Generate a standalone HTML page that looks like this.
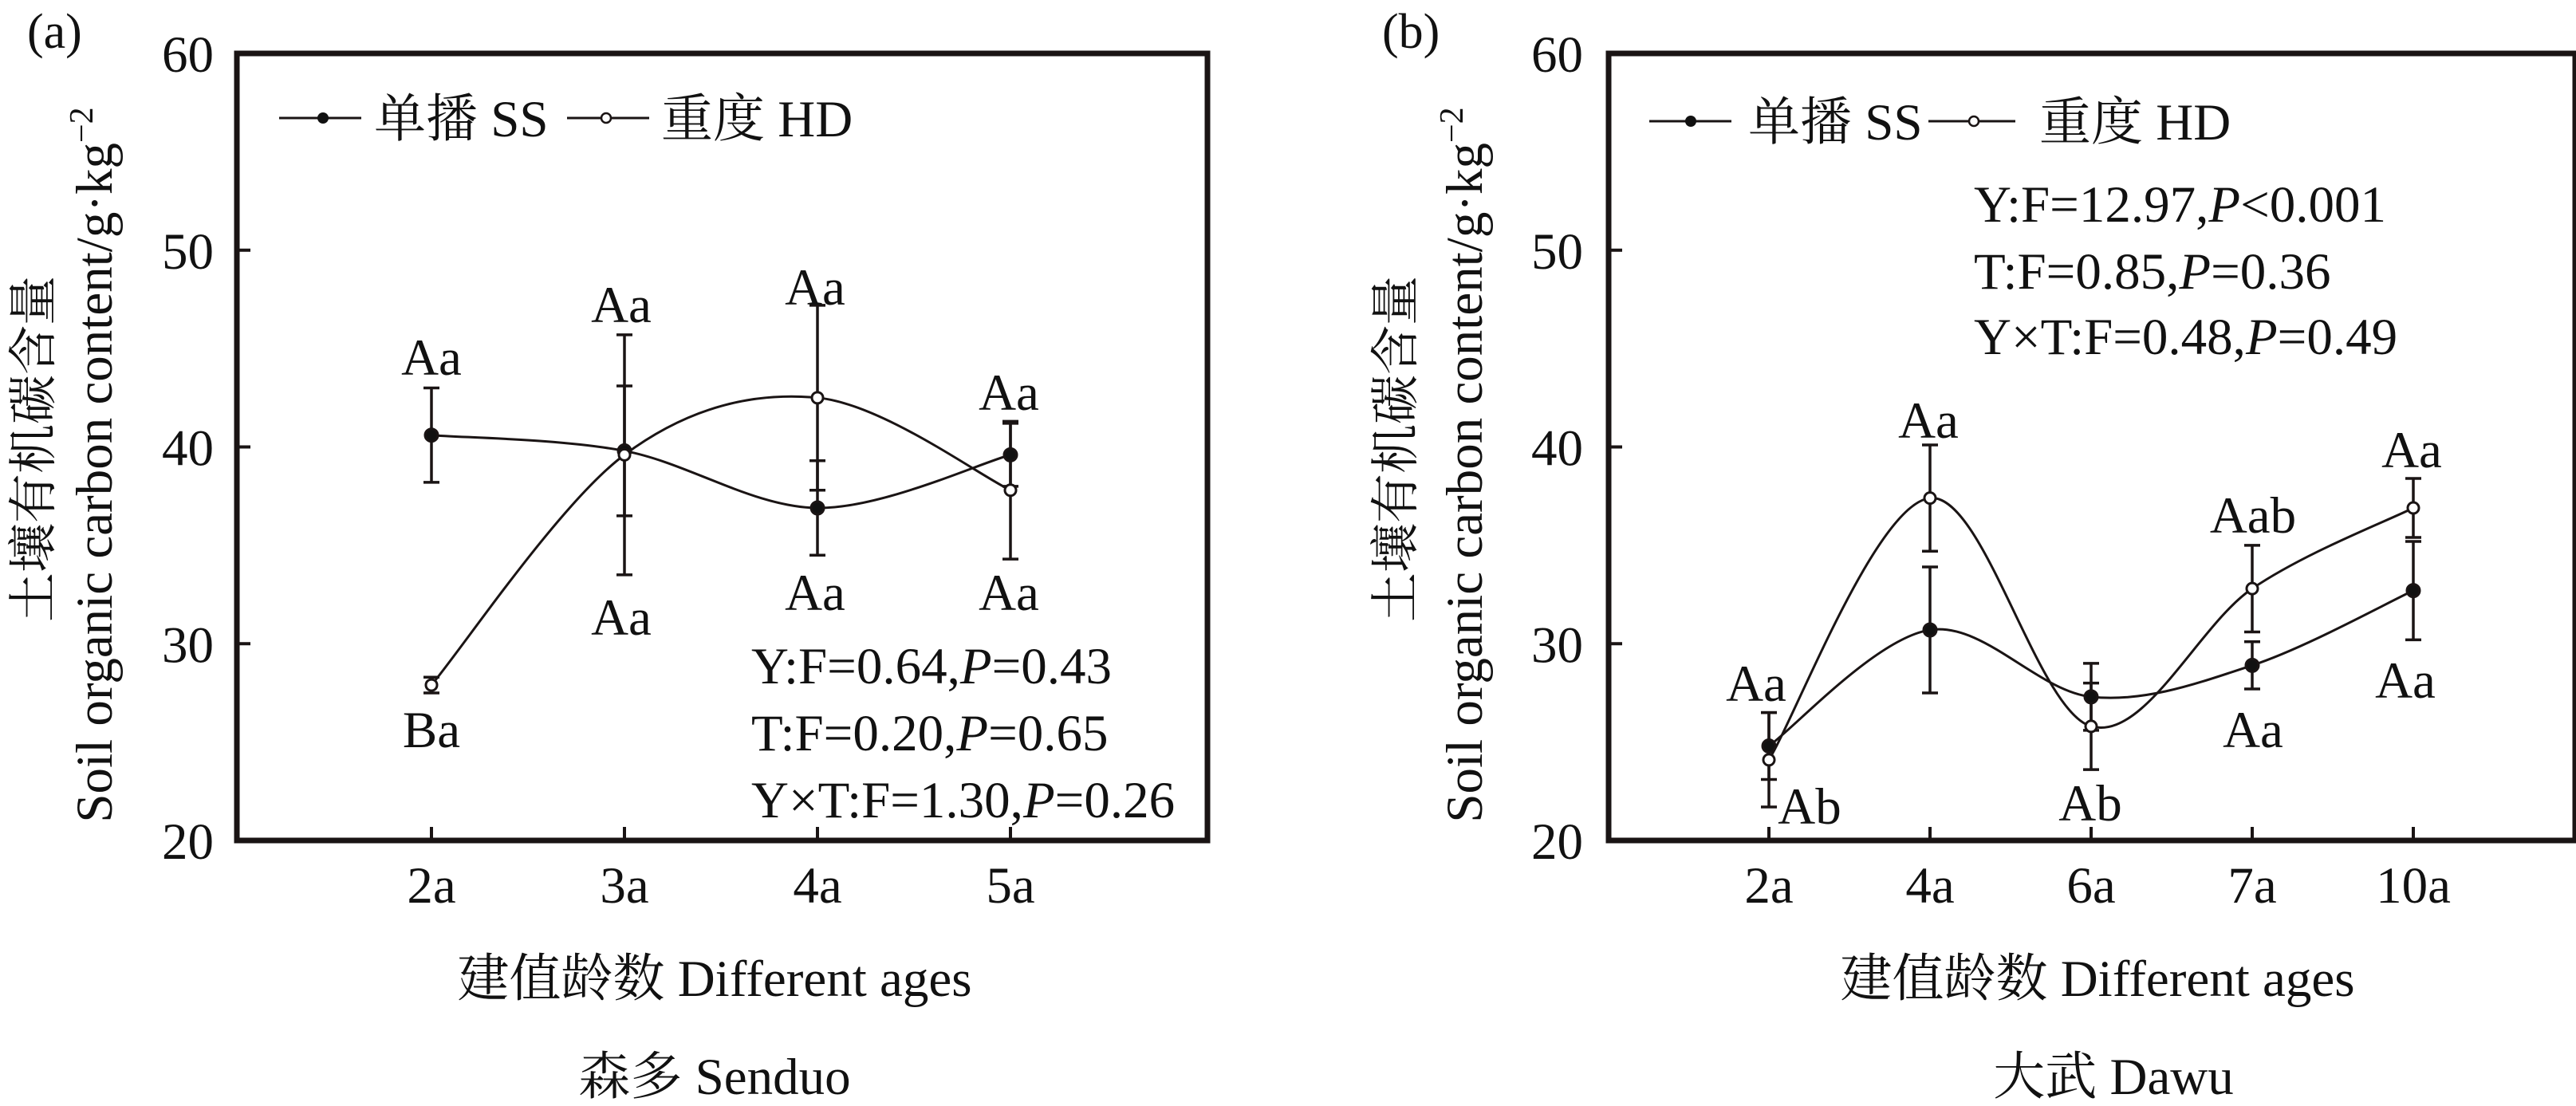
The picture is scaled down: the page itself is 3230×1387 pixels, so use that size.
<!DOCTYPE html>
<html><head><meta charset="utf-8"><style>
html,body{margin:0;padding:0;background:#fff;}
svg text{font-family:"Liberation Serif","Noto Serif CJK SC","Noto Sans CJK SC",serif;fill:#111;}
</style></head><body>
<svg id="chart" width="3230" height="1382" viewBox="0 0 3230 1382" xmlns="http://www.w3.org/2000/svg">
<g id="pa"></g>
<g id="pb"></g>
</svg>
<script>
const yTicks=[20,30,40,50,60];
const catsA=["2a","3a","4a","5a"];
const ssA=[40.6,39.8,36.9,39.6];
const ssErrA=[2.4,3.3,2.4,1.6];
const hdA=[27.9,39.6,42.5,37.8];
const hdErrA=[0.4,6.1,4.7,3.5];
const labSSA=["Aa","Aa","Aa","Aa"];
const labHDA=["Ba","Aa","Aa","Aa"];
const catsB=["2a","4a","6a","7a","10a"];
const ssB=[24.8,30.7,27.3,28.9,32.7];
const ssErrB=[1.7,3.2,1.7,1.2,2.5];
const hdB=[24.1,37.4,25.8,32.8,36.9];
const hdErrB=[2.4,2.7,2.2,2.2,1.5];
const statsA=["Y:F=0.64,|P|=0.43","T:F=0.20,|P|=0.65","Y×T:F=1.30,|P|=0.26"];
const statsB=["Y:F=12.97,|P|<0.001","T:F=0.85,|P|=0.36","Y×T:F=0.48,|P|=0.49"];

const NS="http://www.w3.org/2000/svg";
function mk(p,tag,at,txt){const e=document.createElementNS(NS,tag);for(const k in at)e.setAttribute(k,at[k]);if(txt!==undefined)e.textContent=txt;p.appendChild(e);return e;}
const Y0=67,Y1=1054;
function yScale(v){return Y1-(v-20)/40*(Y1-Y0);}
function catmull(pts){let d="M"+pts[0][0]+","+pts[0][1];for(let i=0;i<pts.length-1;i++){const p0=pts[i-1]||pts[i],p1=pts[i],p2=pts[i+1],p3=pts[i+2]||pts[i+1];const c1=[p1[0]+(p2[0]-p0[0])/6,p1[1]+(p2[1]-p0[1])/6],c2=[p2[0]-(p3[0]-p1[0])/6,p2[1]-(p3[1]-p1[1])/6];d+=" C"+c1+" "+c2+" "+p2;}return d;}

function panel(g,cfg){
  const xs=cfg.cats.map((c,i)=>cfg.x0+i*cfg.dx);
  // frame
  const fr=mk(g,"rect",{x:cfg.left,y:Y0,width:cfg.right-cfg.left,height:Y1-Y0,fill:"none",stroke:"#1a1414","stroke-width":7});
  
  
  // y ticks
  yTicks.forEach(t=>{
    const y=yScale(t);
    if(t>20&&t<60){const l=mk(g,"line",{x1:cfg.left,x2:cfg.left+17,y1:y,y2:y,stroke:"#1a1414","stroke-width":4});
    
    }
    const tx=mk(g,"text",{x:cfg.tickRight,y:y+23,"text-anchor":"end","font-size":65},String(t));
    
    
  });
  // x ticks
  cfg.cats.forEach((c,i)=>{
    const l=mk(g,"line",{x1:xs[i],x2:xs[i],y1:Y1,y2:Y1-17,stroke:"#1a1414","stroke-width":4});
    
    
    const t=mk(g,"text",{x:xs[i],y:1132,"text-anchor":"middle","font-size":65},c);
    
    
  });
  // series
  const series=[{v:cfg.ss,e:cfg.ssE,fill:"#111",name:"ss"},{v:cfg.hd,e:cfg.hdE,fill:"#fff",name:"hd"}];
  series.forEach(s=>{
    const pts=s.v.map((v,i)=>[xs[i],yScale(v)]);
    const p=mk(g,"path",{d:catmull(pts),fill:"none",stroke:"#1a1414","stroke-width":3});
    
    
  });
  series.forEach(s=>{
    s.v.forEach((v,i)=>{
      const x=xs[i],yt=yScale(v+s.e[i]),yb=yScale(v-s.e[i]);
      const eb=mk(g,"path",{d:`M${x},${yt}V${yb}M${x-10},${yt}H${x+10}M${x-10},${yb}H${x+10}`,stroke:"#1a1414","stroke-width":3.5,fill:"none"});
      
      
    });
  });
  series.forEach(s=>{
    s.v.forEach((v,i)=>{
      const c=mk(g,"circle",{cx:xs[i],cy:yScale(v),r:s.name=="ss"?8:7,fill:s.fill,stroke:"#1a1414","stroke-width":3});
      
      
    });
  });
  // annotations
  cfg.ann.forEach(a=>{
    const t=mk(g,"text",{x:a[1],y:a[2]+23,"text-anchor":"middle","font-size":65},a[0]);
    
    
  });
  // stats
  cfg.stats.forEach((s,i)=>{
    const parts=s.split("|");
    const t=mk(g,"text",{x:cfg.statX,y:cfg.statY[i]+23,"font-size":65});
    
    
    mk(t,"tspan",{},parts[0]);mk(t,"tspan",{"font-style":"italic"},parts[1]);mk(t,"tspan",{},parts[2]);
  });
  // legend
  const L=cfg.leg;
  const lg=mk(g,"g",{});
  
  
  mk(lg,"line",{x1:L[0],x2:L[1],y1:L[8],y2:L[8],stroke:"#1a1414","stroke-width":3});
  mk(lg,"circle",{cx:L[2],cy:L[8],r:7,fill:"#111"});
  const t1=mk(lg,"text",{x:L[3],y:L[8]+23,"font-size":65},"单播 SS");
  
  
  mk(lg,"line",{x1:L[4],x2:L[5],y1:L[8],y2:L[8],stroke:"#1a1414","stroke-width":3});
  mk(lg,"circle",{cx:L[6],cy:L[8],r:6,fill:"#fff",stroke:"#1a1414","stroke-width":2.5});
  const t2=mk(lg,"text",{x:L[7],y:L[8]+23,"font-size":65},"重度 HD");
  
  
  // titles
  const pl=mk(g,"text",{x:cfg.panelX,y:60,"font-size":62},cfg.panelLabel);
  
  
  const xt=mk(g,"text",{x:cfg.xtX,y:1249,"text-anchor":"middle","font-size":65},"建值龄数 Different ages");
  
  
  const st=mk(g,"text",{x:cfg.siteX,y:1372,"text-anchor":"middle","font-size":65},cfg.site);
  
  
  const y1=mk(g,"text",{x:0,y:0,"text-anchor":"middle","font-size":62,transform:`translate(${cfg.ylab1+22},563) rotate(-90)`},"土壤有机碳含量");
  
  
  const y2=mk(g,"text",{x:0,y:0,"text-anchor":"middle","font-size":65,transform:`translate(${cfg.ylab2+22},583) rotate(-90)`});
  
  
  mk(y2,"tspan",{},"Soil organic carbon content/g·kg");
  mk(y2,"tspan",{dy:-24,"font-size":42},"−2");
}

panel(document.getElementById("pa"),{cats:catsA,x0:541,dx:242,left:297,right:1514,tickRight:268,
  ss:ssA,ssE:ssErrA,hd:hdA,hdE:hdErrA,
  ann:[[labSSA[0],541,447],[labHDA[0],541,914],[labSSA[1],779,381],[labHDA[1],779,773],[labHDA[2],1022,359],[labSSA[2],1022,742],[labSSA[3],1265,491],[labHDA[3],1265,742]],
  stats:statsA,statX:942,statY:[834,918,1002],
  leg:[350,453,405,469,711,814,760,829,148],
  panelLabel:"(a)",panelX:34,xtX:896,site:"森多 Senduo",siteX:896,ylab1:41,ylab2:118});
panel(document.getElementById("pb"),{cats:catsB,x0:2218,dx:202,left:2017,right:3229,tickRight:1985,
  ss:ssB,ssE:ssErrB,hd:hdB,hdE:hdErrB,
  ann:[["Aa",2202,856],["Ab",2269,1010],["Aa",2418,526],["Ab",2621,1006],["Aab",2825,645],["Aa",2825,914],["Aa",3024,563],["Aa",3016,852]],
  stats:statsB,statX:2475,statY:[255,339,421],
  leg:[2068,2171,2120,2192,2418,2527,2475,2557,152],
  panelLabel:"(b)",panelX:1733,xtX:2630,site:"大武 Dawu",siteX:2650,ylab1:1749,ylab2:1836});
</script>
</body></html>
